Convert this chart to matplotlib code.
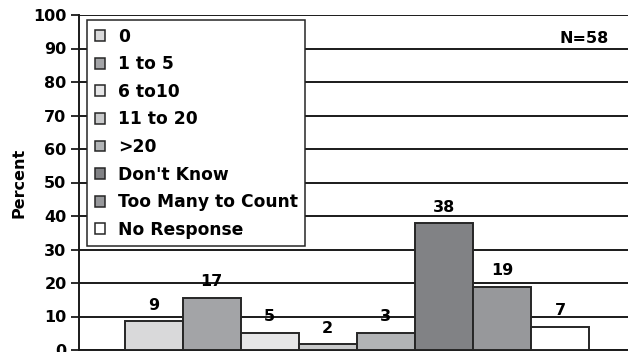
import matplotlib
matplotlib.use("Agg")
import matplotlib.pyplot as plt
from matplotlib.patches import Patch

categories = ["0", "1 to 5", "6 to10", "11 to 20", ">20", "Don't Know",
              "Too Many to Count", "No Response"]
values = [8.6, 15.6, 5.2, 1.8, 5.2, 37.8, 18.9, 7.0]
value_labels = ["9", "17", "5", "2", "3", "38", "19", "7"]
colors = ["#d9d9da", "#a3a4a7", "#e6e6e7", "#c9cacb", "#b2b4b6",
          "#818285", "#97989b", "#ffffff"]
yticks = [0, 10, 20, 30, 40, 50, 60, 70, 80, 90, 100]

plt.rcParams['font.family'] = ['DejaVu Sans']
plt.rcParams['font.weight'] = 'bold'
FS = 11.5

fig = plt.figure(figsize=(6.28, 3.52), dpi=100)
ax = fig.add_axes([79/628, 2/352, 1 - 79/628, 335/352])

x = list(range(len(values)))
bars = ax.bar(x, values, width=1.0, color=colors, edgecolor="#262626",
              linewidth=1.4, zorder=3)
for xi, v, lab in zip(x, values, value_labels):
    ax.annotate(lab, (xi, v), xytext=(0, 6), textcoords="offset points",
                ha="center", va="bottom", fontsize=FS, fontweight="bold",
                zorder=4)

ax.set_xlim(-1.285, 8.17)
ax.set_ylim(0, 100)
ax.set_yticks(yticks)
ax.set_yticklabels([str(t) for t in yticks], fontsize=FS, fontweight="bold")
ax.set_xticks([])
ax.yaxis.grid(True, color="#1a1a1a", linewidth=1.4, zorder=0)
ax.tick_params(axis="y", length=6, width=1.3, color="#1a1a1a", pad=3)
for s in ["top", "right"]:
    ax.spines[s].set_visible(False)
ax.spines["left"].set_color("#1a1a1a")
ax.spines["left"].set_linewidth(1.4)
ax.spines["bottom"].set_color("#1a1a1a")
ax.spines["bottom"].set_linewidth(1.4)
ax.set_ylabel("Percent", fontsize=FS, fontweight="bold", labelpad=5)

handles = [Patch(facecolor=c, edgecolor="#262626", linewidth=1.1) for c in colors]
leg = ax.legend(handles, categories, loc="upper left",
                bbox_to_anchor=(8/549, 0.985),
                prop={"weight": "bold", "size": 12.3},
                frameon=True, fancybox=False, edgecolor="#262626",
                framealpha=1, handlelength=0.6, handleheight=0.6,
                handletextpad=0.75, labelspacing=0.56, borderpad=0.45,
                borderaxespad=0)
leg.get_frame().set_linewidth(1.1)
leg.set_zorder(5)

ax.text(0.965, 0.93, "N=58", transform=ax.transAxes, ha="right",
        va="center", fontsize=FS, fontweight="bold")

fig.savefig("out.png", dpi=100)
